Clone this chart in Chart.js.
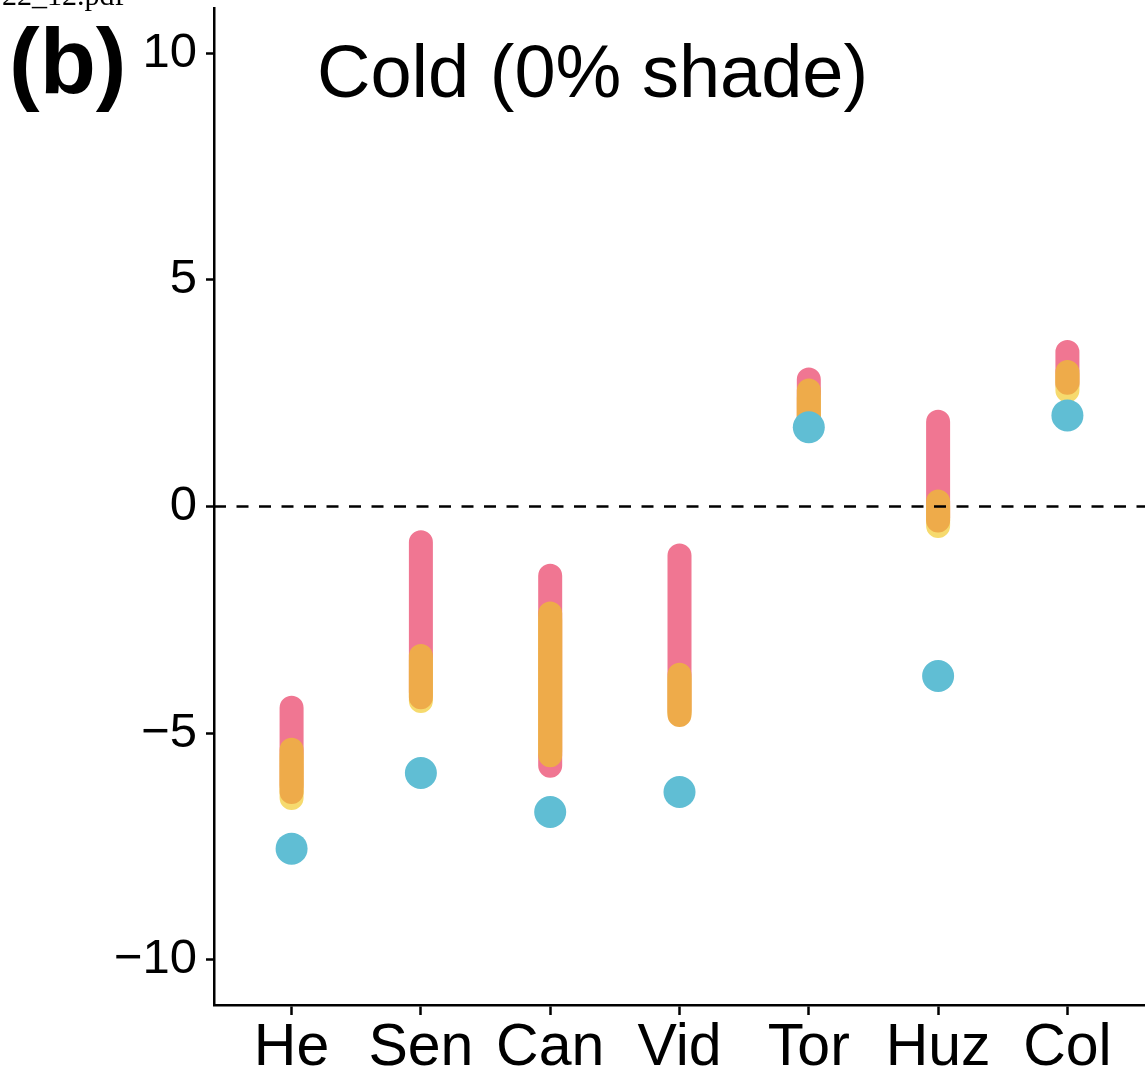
<!DOCTYPE html>
<html>
<head>
<meta charset="utf-8">
<script src="https://cdn.jsdelivr.net/npm/chart.js@4/dist/chart.umd.min.js"></script>
<style>
  html, body { margin: 0; padding: 0; background: #fff; overflow: hidden; }
  #wrap { position: relative; width: 1145px; height: 1078px; }
  canvas { position: absolute; left: 0; top: 0; }
  .file { position: absolute; left: 2px; top: -22px; font: 30px "Liberation Serif", "DejaVu Serif", serif; color: #000; }
  .panel { position: absolute; left: 9px; top: 15px; font: bold 92px "Liberation Sans", Arial, sans-serif; color: #000; line-height: 1; }
  .title { position: absolute; left: 317px; top: 35px; font: 74px "Liberation Sans", Arial, sans-serif; color: #000; line-height: 1; }
</style>
</head>
<body>
<div id="wrap">
  <canvas id="c" width="1145" height="1078"></canvas>
  <div class="file">22_12.pdf</div>
  <div class="panel">(b)</div>
  <div class="title">Cold (0% shade)</div>
</div>
<script>
// Sites along the x axis
const sites = ["He", "Sen", "Can", "Vid", "Tor", "Huz", "Col"];
const yTicks = [-10, -5, 0, 5, 10];

// Ranges per site: [low, high]
const pinkLow    = [-6.15, -4.10, -5.72, -4.50, 1.90, -0.25, 2.70];
const pinkHigh   = [-4.44, -0.79, -1.53, -1.08, 2.80,  1.87, 3.41];
const orangeLow  = [-6.30, -4.21, -5.49, -4.60, 1.85, -0.31, 2.73];
const orangeHigh = [-5.37, -3.30, -2.36, -3.71, 2.56,  0.11, 2.97];
const yellowLow  = [-6.43, -4.29, -5.40, -4.55, 1.90, -0.43, 2.56];
const yellowHigh = [-5.50, -3.40, -2.50, -3.80, 2.40,  0.00, 2.90];
// Single values per site
const blueVals   = [-7.55, -5.88, -6.74, -6.30, 1.75, -3.74, 2.01];

// Vertical segments, one per site, separated by gaps
function segments(low, high) {
  const pts = [];
  low.forEach((lo, i) => {
    const x = i + 1;
    pts.push({ x: x, y: lo }, { x: x, y: high[i] }, { x: x, y: null });
  });
  return pts;
}

const segStyle = {
  type: 'line',
  borderWidth: 24,
  borderCapStyle: 'round',
  pointRadius: 0,
  spanGaps: false,
  fill: false
};

// Keep the plot area flush with the axes instead of reserving room for edge labels
function noEdgePadding(s) {
  s.paddingTop = 0; s.paddingBottom = 0; s.paddingLeft = 0; s.paddingRight = 0;
}

new Chart(document.getElementById('c'), {
  type: 'line',
  data: {
    datasets: [
      { ...segStyle, order: 5, data: segments(pinkLow, pinkHigh), borderColor: '#F07692' },
      { ...segStyle, order: 4, data: segments(yellowLow, yellowHigh), borderColor: '#F6DA6E' },
      { ...segStyle, order: 3, data: segments(orangeLow, orangeHigh), borderColor: '#EEAB4A' },
      {
        type: 'scatter', order: 2,
        data: blueVals.map((v, i) => ({ x: i + 1, y: v })),
        pointRadius: 16, pointBackgroundColor: '#60BED4', pointBorderWidth: 0, showLine: false
      },
      {
        type: 'line', order: 1,
        data: [{ x: 0.4, y: 0 }, { x: 7.6, y: 0 }],
        borderColor: '#000', borderWidth: 2.5, borderDash: [12, 10.5], pointRadius: 0, fill: false
      }
    ]
  },
  options: {
    responsive: false,
    animation: false,
    events: [],
    layout: { autoPadding: false, padding: { top: 8, right: 0, left: 0, bottom: 0 } },
    plugins: { legend: { display: false }, tooltip: { enabled: false } },
    scales: {
      x: {
        type: 'linear', min: 0.4, max: 7.6,
        afterBuildTicks: s => { s.ticks = sites.map((_, i) => ({ value: i + 1 })); },
        afterFit: s => { s.height = 73; noEdgePadding(s); },
        ticks: {
          autoSkip: false, maxRotation: 0, padding: -2,
          color: '#000',
          font: { family: '"Liberation Sans", Arial, sans-serif', size: 59 },
          callback: v => sites[Math.round(v) - 1]
        },
        grid: { drawOnChartArea: false, tickLength: 10, tickWidth: 2.5, tickColor: '#000' },
        border: { display: true, color: '#000', width: 2.5 }
      },
      y: {
        type: 'linear', min: -11, max: 11,
        afterBuildTicks: s => { s.ticks = yTicks.map(v => ({ value: v })); },
        afterFit: s => { s.width = 214; noEdgePadding(s); },
        ticks: {
          padding: 9, color: '#000',
          font: { family: '"Liberation Sans", Arial, sans-serif', size: 49 },
          callback: v => (v < 0 ? '\u2212' + Math.abs(v) : String(v))
        },
        grid: { drawOnChartArea: false, tickLength: 8, tickWidth: 2.5, tickColor: '#000' },
        border: { display: true, color: '#000', width: 2.5 }
      }
    }
  }
});
</script>
</body>
</html>
